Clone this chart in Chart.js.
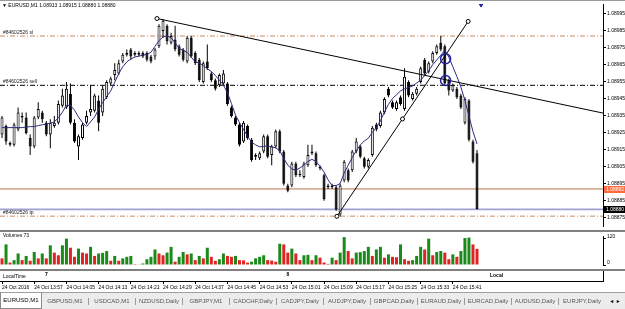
<!DOCTYPE html>
<html>
<head>
<meta charset="utf-8">
<title>EURUSD,M1</title>
<script src="https://cdn.jsdelivr.net/npm/chart.js@4.4.1/dist/chart.umd.min.js"></script>
<style>
  body { margin:0; width:625px; height:309px; overflow:hidden; background:#fff; position:relative; font-family:"Liberation Sans", Arial, sans-serif; }
  .panel { position:absolute; left:0; width:625px; }
  .panel canvas { display:block; }
  .sep { position:absolute; left:0; width:625px; background:#808080; }
  .txt { position:absolute; white-space:nowrap; color:#000; font-size:5px; line-height:1; }
  #tabs { position:absolute; left:0; top:292px; width:625px; height:17px; background:#ececec; border-top:1px solid #a0a0a0; box-sizing:border-box; display:flex; align-items:center; }
  #tabs .tab { flex:1; text-align:center; font-size:6px; color:#555; border-left:1px solid #9a9a9a; line-height:7px; white-space:nowrap; }
  #tabs .tab.first { border-left:none; }
  #tabs .active { flex:0 0 40px; height:15px; margin-top:-1px; background:#fff; border:1px solid #8a8a8a; border-top:none; font-size:6px; color:#000; display:flex; align-items:center; justify-content:center; }
  #tabs .arrows { flex:0 0 20px; font-size:5px; color:#000; text-align:center; }
</style>
</head>
<body>

<div class="sep" style="top:0;height:1px;background:#9a9a9a"></div>
<div class="panel" style="top:0;height:230px"><canvas id="priceChart" width="625" height="230"></canvas></div>
<div class="sep" style="top:230px;height:2px"></div>
<div class="panel" style="top:232px;height:37px"><canvas id="volChart" width="625" height="37"></canvas></div>
<div class="sep" style="top:269px;height:2px"></div>
<div class="panel" style="top:271px;height:21px"><canvas id="timeChart" width="625" height="21"></canvas></div>

<div class="txt" id="title" style="left:2px;top:3px;font-size:5px"></div>
<div class="txt" id="volTitle" style="left:3px;top:233px"></div>
<div class="txt" style="left:3px;top:274px">LocalTime</div>
<div class="txt" style="left:490px;top:273px;font-weight:bold">Local</div>

<div id="tabs"></div>

<script>
// velas M1 EURUSD
var open = [
  1.08924,1.08929,1.08918,1.08918,1.08927,1.08934,1.08934,1.08922,1.08917,1.08934,
  1.08937,1.08931,1.08924,1.08929,1.08931,1.08941,1.08940,1.08948,1.08931,1.08917,
  1.08922,1.08931,1.08937,1.08938,1.08944,1.08937,1.08946,1.08954,1.08959,1.08960,
  1.08967,1.08971,1.08974,1.08972,1.08972,1.08972,1.08972,1.08970,1.08970,1.08976,
  1.08985,1.08988,1.08978,1.08980,1.08976,1.08974,1.08967,1.08981,1.08972,1.08968,
  1.08955,1.08967,1.08960,1.08956,1.08953,1.08954,1.08954,1.08940,1.08934,1.08930,
  1.08920,1.08929,1.08921,1.08912,1.08910,1.08914,1.08923,1.08912,1.08917,1.08926,
  1.08914,1.08894,1.08894,1.08907,1.08900,1.08899,1.08906,1.08913,1.08913,1.08904,
  1.08900,1.08893,1.08893,1.08893,1.08877,1.08897,1.08903,1.08903,1.08914,1.08917,
  1.08910,1.08905,1.08912,1.08930,1.08929,1.08937,1.08951,1.08943,1.08939,1.08946,
  1.08939,1.08955,1.08945,1.08948,1.08955,1.08968,1.08961,1.08967,1.08972,1.08978,
  1.08976,1.08956,1.08950,1.08951,1.08947,1.08931,1.08944,1.08920,1.08913
];
var high = [
  1.08935,1.08930,1.08920,1.08931,1.08940,1.08937,1.08937,1.08924,1.08935,1.08943,
  1.08938,1.08932,1.08933,1.08935,1.08944,1.08951,1.08955,1.08954,1.08933,1.08924,
  1.08931,1.08938,1.08953,1.08948,1.08947,1.08953,1.08956,1.08958,1.08966,1.08968,
  1.08972,1.08974,1.08975,1.08973,1.08973,1.08973,1.08973,1.08971,1.08975,1.08989,
  1.08992,1.08989,1.08984,1.08988,1.08977,1.08975,1.08982,1.08982,1.08973,1.08969,
  1.08967,1.08977,1.08961,1.08957,1.08960,1.08962,1.08955,1.08941,1.08935,1.08931,
  1.08932,1.08930,1.08922,1.08913,1.08914,1.08924,1.08924,1.08918,1.08927,1.08927,
  1.08915,1.08895,1.08908,1.08908,1.08903,1.08908,1.08918,1.08918,1.08914,1.08906,
  1.08901,1.08895,1.08895,1.08894,1.08895,1.08909,1.08904,1.08915,1.08922,1.08918,
  1.08911,1.08910,1.08929,1.08931,1.08938,1.08946,1.08952,1.08944,1.08944,1.08947,
  1.08963,1.08956,1.08949,1.08952,1.08964,1.08969,1.08967,1.08973,1.08977,1.08982,
  1.08977,1.08957,1.08954,1.08952,1.08948,1.08946,1.08945,1.08921,1.08915
];
var low = [
  1.08922,1.08918,1.08917,1.08917,1.08926,1.08931,1.08924,1.08912,1.08916,1.08933,
  1.08931,1.08923,1.08916,1.08928,1.08930,1.08940,1.08939,1.08930,1.08919,1.08909,
  1.08921,1.08930,1.08935,1.08937,1.08926,1.08935,1.08945,1.08953,1.08956,1.08959,
  1.08966,1.08970,1.08968,1.08970,1.08970,1.08969,1.08967,1.08966,1.08968,1.08975,
  1.08981,1.08977,1.08977,1.08973,1.08970,1.08967,1.08966,1.08969,1.08965,1.08955,
  1.08954,1.08962,1.08955,1.08950,1.08952,1.08953,1.08941,1.08934,1.08929,1.08917,
  1.08919,1.08921,1.08908,1.08909,1.08909,1.08913,1.08910,1.08906,1.08916,1.08913,
  1.08894,1.08890,1.08893,1.08899,1.08899,1.08898,1.08905,1.08912,1.08905,1.08903,
  1.08885,1.08892,1.08892,1.08879,1.08876,1.08896,1.08896,1.08902,1.08913,1.08910,
  1.08904,1.08904,1.08911,1.08926,1.08928,1.08936,1.08946,1.08939,1.08938,1.08941,
  1.08938,1.08946,1.08944,1.08947,1.08954,1.08959,1.08960,1.08966,1.08971,1.08973,
  1.08953,1.08947,1.08949,1.08945,1.08939,1.08930,1.08920,1.08907,1.08880
];
var close = [
  1.08934,1.08920,1.08919,1.08930,1.08937,1.08935,1.08925,1.08917,1.08934,1.08939,
  1.08933,1.08924,1.08931,1.08931,1.08942,1.08947,1.08951,1.08931,1.08920,1.08923,
  1.08930,1.08935,1.08939,1.08947,1.08931,1.08951,1.08955,1.08957,1.08962,1.08966,
  1.08971,1.08972,1.08970,1.08971,1.08971,1.08970,1.08968,1.08967,1.08974,1.08988,
  1.08991,1.08979,1.08982,1.08974,1.08971,1.08968,1.08981,1.08970,1.08966,1.08956,
  1.08966,1.08963,1.08956,1.08951,1.08959,1.08960,1.08942,1.08935,1.08930,1.08918,
  1.08931,1.08922,1.08909,1.08911,1.08913,1.08923,1.08911,1.08917,1.08926,1.08914,
  1.08895,1.08891,1.08907,1.08900,1.08901,1.08907,1.08912,1.08914,1.08906,1.08905,
  1.08886,1.08894,1.08894,1.08880,1.08894,1.08908,1.08897,1.08914,1.08920,1.08911,
  1.08905,1.08909,1.08928,1.08927,1.08937,1.08945,1.08947,1.08940,1.08943,1.08942,
  1.08958,1.08947,1.08948,1.08951,1.08963,1.08960,1.08966,1.08972,1.08976,1.08974,
  1.08954,1.08950,1.08953,1.08946,1.08940,1.08945,1.08921,1.08908,1.08880
];
// media móvil (línea azul)
var maLine = [
  1.089281,1.089281,1.089281,1.089281,1.089281,1.089281,1.089284,1.089287,1.089287,1.089293,
  1.089298,1.089301,1.089307,1.089315,1.089338,1.089372,1.089412,1.089412,1.089384,1.089344,
  1.089310,1.089287,1.089315,1.089344,1.089389,1.089429,1.089463,1.089497,1.089548,1.089599,
  1.089639,1.089668,1.089685,1.089696,1.089702,1.089707,1.089713,1.089724,1.089759,1.089793,
  1.089815,1.089821,1.089810,1.089781,1.089747,1.089736,1.089724,1.089696,1.089668,1.089662,
  1.089645,1.089628,1.089611,1.089588,1.089560,1.089531,1.089486,1.089423,1.089355,1.089310,
  1.089270,1.089230,1.089196,1.089179,1.089168,1.089170,1.089173,1.089168,1.089162,1.089145,
  1.089099,1.089060,1.089037,1.089031,1.089043,1.089060,1.089082,1.089094,1.089082,1.089054,
  1.089020,1.088974,1.088940,1.088940,1.088952,1.089014,1.089060,1.089105,1.089145,1.089179,
  1.089202,1.089219,1.089253,1.089281,1.089321,1.089372,1.089418,1.089452,1.089474,1.089497,
  1.089509,1.089517,1.089526,1.089543,1.089560,1.089588,1.089616,1.089651,1.089679,1.089707,
  1.089736,1.089696,1.089639,1.089582,1.089520,1.089440,1.089349,1.089258,1.089185
];
// volúmenes (ticks)
var volumes = [
  30,93,11,22,52,22,41,19,59,30,
  52,30,89,56,44,89,119,78,37,74,
  56,52,82,41,52,55,63,19,41,19,
  30,37,41,4,3,7,26,37,70,52,
  44,56,82,15,37,59,48,52,22,41,
  30,78,37,19,26,52,41,37,41,22,
  21,11,15,30,37,44,22,20,15,96,
  93,56,74,52,22,44,46,22,44,33,
  11,5,33,22,56,126,63,30,56,58,
  63,82,41,70,82,33,48,37,35,93,
  26,19,22,41,82,70,119,44,59,63,
  56,26,48,37,63,122,124,93,73
];

// eje de precios y niveles de la orden
var priceMin = 1.088702, priceMax = 1.0900085;
var priceTicks = [1.08995,1.08985,1.08975,1.08965,1.08955,1.08945,1.08935,1.08925,1.08915,1.08905,1.08895,1.08885,1.08875];
var orderLevels = [1.08982, 1.08953, 1.08876];
var orderNames = ['#84602526 sl', '#84602526 sell', '#84602526 tp'];
var positionLevel = 1.08892;
var volMax = 131;
var volTicks = [0, 120];

// líneas de tendencia [indice de vela, precio]
var trendA = [[38.5, 1.089923], [149.3, 1.0893665]];
var trendB = [[83.2, 1.088759], [99.5, 1.089332], [115.8, 1.089906]];
var markCircles = [[110.2, 1.089686], [110.2, 1.089558]];
var markArrow = [[119, 1.090008]];

// eje de tiempo
var timeTickIdx = [0,8,16,24,32,40,48,56,64,72,80,88,96,104,112];
var timeLabels = ['24 Oct 2016','24 Oct 13:57','24 Oct 14:05','24 Oct 14:13','24 Oct 14:21','24 Oct 14:29','24 Oct 14:37',
  '24 Oct 14:45','24 Oct 14:53','24 Oct 15:01','24 Oct 15:09','24 Oct 15:17','24 Oct 15:25','24 Oct 15:33','24 Oct 15:41'];
var hourIdx = [11, 71];
var hourLabels = ['7', '8'];

var tabNames = ['GBPUSD,M1','USDCAD,M1','NZDUSD,Daily','GBPJPY,M1','CADCHF,Daily','CADJPY,Daily','AUDJPY,Daily',
  'GBPCAD,Daily','EURAUD,Daily','EURCAD,Daily','AUDUSD,Daily','EURJPY,Daily'];

var xMin = -0.5, xMax = 149.3;
var n = open.length;
var last = n - 1;

Chart.defaults.font.family = '"Liberation Sans", Arial, sans-serif';
Chart.defaults.font.size = 5;
Chart.defaults.color = '#000';

//eje derecho con ancho fijo como en MT4
function rightAxis(min, max, ticks, fmt, labelOffset) {
  return {
    position: 'right', min: min, max: max,
    afterBuildTicks: function(s){ s.ticks = ticks.map(function(v){ return {value: v}; }); },
    afterFit: function(s){ s.width = 22; },
    ticks: {callback: fmt, padding: 1, labelOffset: labelOffset || 0, font: {size: 5}, color: '#000'},
    grid: {drawOnChartArea: false, tickLength: 3, color: '#000'},
    border: {color: '#000'}
  };
}
function hiddenX() {
  return {type: 'linear', min: xMin, max: xMax, offset: false, display: false};
}
function pts(arr) {
  return arr.map(function(p){ return {x: p[0], y: p[1]}; });
}
function flatLine(v) {
  return [{x: xMin, y: v}, {x: xMax, y: v}];
}
//sin autoPadding para que el área del gráfico ocupe todo el canvas
var baseOpts = {responsive: false, animation: false, devicePixelRatio: 1, layout: {padding: 0, autoPadding: false}};

// textos de niveles y etiquetas de precio en el eje
var priceLabels = {
  id: 'priceLabels',
  afterDraw: function(chart) {
    var ctx = chart.ctx, y = chart.scales.y, area = chart.chartArea;
    ctx.save();
    ctx.font = '5px "Liberation Sans", Arial, sans-serif';
    ctx.fillStyle = '#222';
    ctx.textBaseline = 'bottom';
    orderLevels.forEach(function(lv, k){
      ctx.fillText(orderNames[k], area.left + 3, y.getPixelForValue(lv) - 1);
    });
    var tags = [[positionLevel, '#ff6a3d'], [close[last], '#000']];
    tags.forEach(function(t){
      var py = Math.round(y.getPixelForValue(t[0]));
      ctx.fillStyle = t[1];
      ctx.fillRect(area.right + 1, py - 3, 21, 7);
      ctx.fillStyle = '#fff';
      ctx.textBaseline = 'middle';
      ctx.fillText(t[0].toFixed(5), area.right + 3, py + 0.5);
    });
    ctx.restore();
  }
};

var idx = open.map(function(_, i){ return i; });

new Chart(document.getElementById('priceChart'), {
  type: 'bar',
  data: {
    datasets: [
      {type: 'line', data: flatLine(orderLevels[0]), borderColor: '#c98a5a', borderWidth: 1, borderDash: [5,2,1,2], pointRadius: 0, order: 10},
      {type: 'line', data: flatLine(orderLevels[1]), borderColor: '#000', borderWidth: 1, borderDash: [5,2,1,2], pointRadius: 0, order: 10},
      {type: 'line', data: flatLine(orderLevels[2]), borderColor: '#c98a5a', borderWidth: 1, borderDash: [5,2,1,2], pointRadius: 0, order: 10},
      {type: 'line', data: flatLine(positionLevel), borderColor: '#b8704c', borderWidth: 1, pointRadius: 0, order: 10},
      {type: 'line', data: flatLine(close[last]), borderColor: '#a0a0d4', borderWidth: 1.6, pointRadius: 0, order: 10},
      {
        data: idx.map(function(i){ return {x: i, y: [low[i], high[i]]}; }),
        backgroundColor: '#000', barThickness: 1, grouped: false, inflateAmount: 0, order: 8
      },
      {
        data: idx.map(function(i){ return {x: i, y: [open[i], close[i]]}; }),
        backgroundColor: function(c){ var i = c.dataIndex; return close[i] >= open[i] ? '#fff' : '#000'; },
        borderColor: '#000', borderWidth: 1, borderSkipped: false,
        barThickness: 3, grouped: false, inflateAmount: 0, order: 7
      },
      {type: 'line', data: idx.map(function(i){ return {x: i, y: maLine[i]}; }), borderColor: '#2c2c80', borderWidth: 1, pointRadius: 0, order: 6},
      {type: 'line', data: pts(trendA), borderColor: '#000', borderWidth: 1, pointRadius: [2, 0],
        pointBackgroundColor: '#fff', pointBorderColor: '#000', pointBorderWidth: 1, order: 5},
      {type: 'line', data: pts(trendB), borderColor: '#000', borderWidth: 1, pointRadius: 2,
        pointBackgroundColor: '#fff', pointBorderColor: '#000', pointBorderWidth: 1, order: 5},
      {type: 'line', data: pts(markCircles), showLine: false, pointRadius: 5, pointBorderWidth: 1.5,
        pointBorderColor: '#1f1fa8', pointBackgroundColor: 'rgba(0,0,0,0)', order: 4},
      {type: 'line', data: pts(markArrow), showLine: false, pointStyle: 'triangle', rotation: 180, pointRadius: 3,
        pointBorderColor: '#1f1fa8', pointBackgroundColor: '#1f1fa8', order: 4}
    ]
  },
  options: Object.assign({}, baseOpts, {
    plugins: {legend: {display: false}, tooltip: {enabled: false}},
    scales: {
      x: hiddenX(),
      y: rightAxis(priceMin, priceMax, priceTicks, function(v){ return v.toFixed(5); })
    }
  }),
  plugins: [priceLabels]
});

// volúmenes: verde si sube respecto a la barra anterior
new Chart(document.getElementById('volChart'), {
  type: 'bar',
  data: {
    datasets: [{
      data: idx.map(function(i){ return {x: i, y: volumes[i]}; }),
      backgroundColor: function(c){ var i = c.dataIndex; return i > 0 && volumes[i] > volumes[i-1] ? '#1a8a1a' : '#e02424'; },
      barThickness: 3, inflateAmount: 0, grouped: false
    }]
  },
  options: Object.assign({}, baseOpts, {
    plugins: {legend: {display: false}, tooltip: {enabled: false}},
    scales: {
      x: hiddenX(),
      y: rightAxis(0, volMax, volTicks, function(v){ return String(v); }, -2)
    }
  })
});

// marcas de hora local
var hourText = {
  id: 'hourText',
  afterDatasetsDraw: function(chart) {
    var ctx = chart.ctx, meta = chart.getDatasetMeta(0);
    ctx.save();
    ctx.font = 'bold 5px "Liberation Sans", Arial, sans-serif';
    ctx.fillStyle = '#000';
    ctx.textAlign = 'center';
    ctx.textBaseline = 'middle';
    meta.data.forEach(function(pt, k){ ctx.fillText(hourLabels[k], pt.x, pt.y - 1); });
    ctx.restore();
  }
};

new Chart(document.getElementById('timeChart'), {
  type: 'line',
  data: {
    datasets: [{data: hourIdx.map(function(v){ return {x: v, y: 0.5}; }), showLine: false, pointRadius: 0}]
  },
  options: Object.assign({}, baseOpts, {
    plugins: {legend: {display: false}, tooltip: {enabled: false}},
    scales: {
      x: {
        type: 'linear', min: xMin, max: xMax, offset: false,
        afterBuildTicks: function(s){ s.ticks = timeTickIdx.map(function(v){ return {value: v}; }); },
        afterFit: function(s){ s.height = 11; },
        ticks: {align: 'start', autoSkip: false, maxRotation: 0, minRotation: 0, padding: 1, font: {size: 5}, color: '#000',
          callback: function(v, k){ return timeLabels[k]; }},
        grid: {drawOnChartArea: false, tickLength: 3, color: '#000'},
        border: {color: '#000'}
      },
      y: {
        position: 'right', min: 0, max: 1,
        afterBuildTicks: function(s){ s.ticks = []; },
        afterFit: function(s){ s.width = 22; },
        ticks: {display: false},
        grid: {drawOnChartArea: false, drawTicks: false},
        border: {color: '#000'}
      }
    }
  }),
  plugins: [hourText]
});

// cabecera y pestañas
document.getElementById('title').textContent =
  '\u25BC EURUSD,M1  ' + [open[last], high[last], low[last], close[last]].map(function(v){ return v.toFixed(5); }).join(' ');
document.getElementById('volTitle').textContent = 'Volumes ' + volumes[last];

var tabs = document.getElementById('tabs');
var act = document.createElement('div');
act.className = 'active';
act.textContent = 'EURUSD,M1';
tabs.appendChild(act);
tabNames.forEach(function(name, k){
  var d = document.createElement('div');
  d.className = 'tab' + (k === 0 ? ' first' : '');
  d.textContent = name;
  tabs.appendChild(d);
});
var arr = document.createElement('div');
arr.className = 'arrows';
arr.textContent = '\u25C4 \u25BA';
tabs.appendChild(arr);
</script>
</body>
</html>
